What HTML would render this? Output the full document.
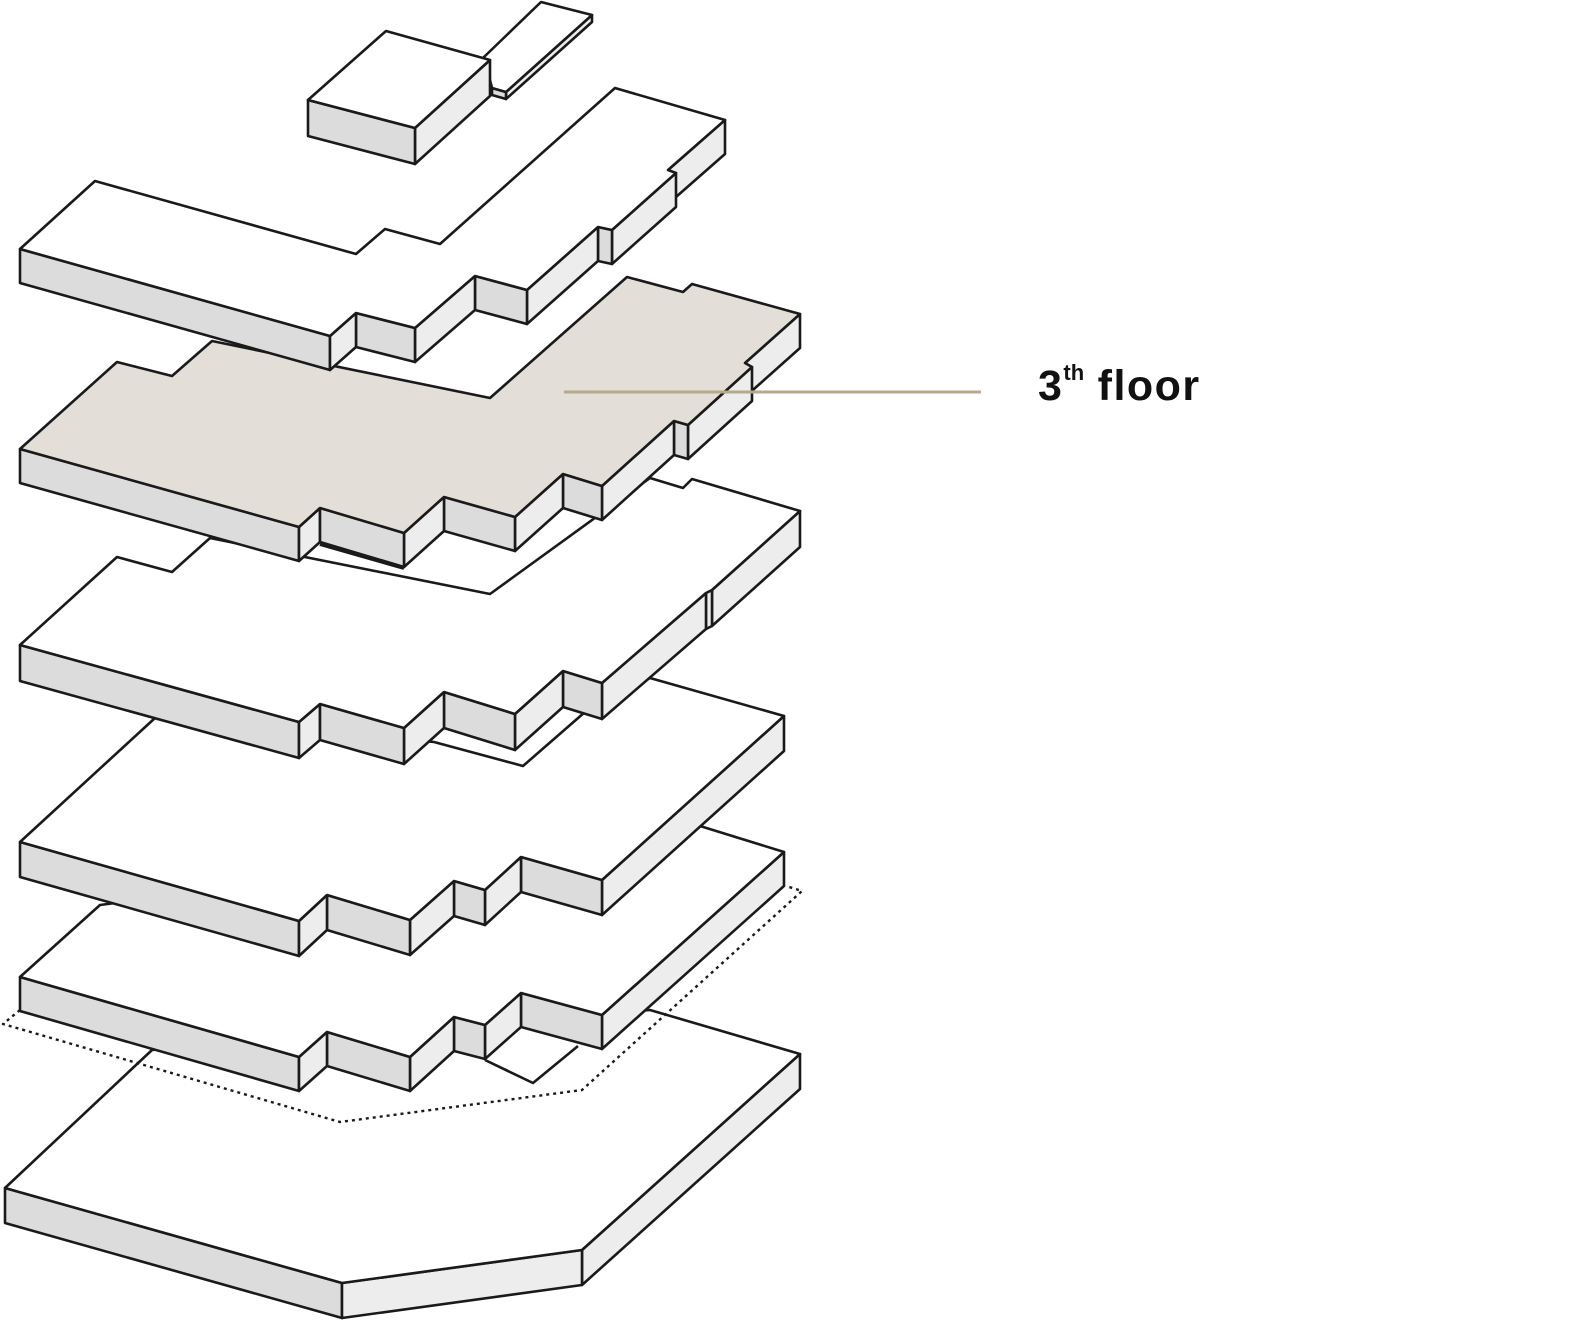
<!DOCTYPE html>
<html><head><meta charset="utf-8"><style>
html,body{margin:0;padding:0;background:#fff;}
#w{position:relative;width:1573px;height:1325px;overflow:hidden;}
svg{position:absolute;left:0;top:0;}
.lbl{position:absolute;left:1038px;top:362px;font-family:"Liberation Sans",sans-serif;font-weight:bold;font-size:43px;color:#111;white-space:nowrap;letter-spacing:1.5px;}
.lbl sup{font-size:22px;position:relative;top:-2px;vertical-align:top;letter-spacing:0;}
</style></head><body><div id="w">
<svg id="s" width="1573" height="1325" viewBox="0 0 1573 1325"></svg>
<div class="lbl">3<sup>th</sup> floor</div>
</div>
<script>
var NS="http://www.w3.org/2000/svg",S=document.getElementById('s');
function el(t,a){var e=document.createElementNS(NS,t);for(var k in a)e.setAttribute(k,a[k]);S.appendChild(e);return e;}
function pts(a){return a.map(function(p){return p[0]+','+p[1]}).join(' ');}
function slab(P,h,top){
  var faces=[];
  for(var i=0;i<P.length;i++){var a=P[i],b=P[(i+1)%P.length];var dx=b[0]-a[0],dy=b[1]-a[1];
    if(dx<0){faces.push({q:[a,b,[b[0],b[1]+h],[a[0],a[1]+h]],c:dy<0?'#dcdcdc':'#ededed',y:(a[1]+b[1])/2});}}
  faces.sort(function(m,n){return m.y-n.y});
  faces.forEach(function(f){el('polygon',{points:pts(f.q),fill:f.c,stroke:'#1a1a1a','stroke-width':2.6,'stroke-linejoin':'round'});});
  el('polygon',{points:pts(P),fill:top||'#fff',stroke:'#1a1a1a','stroke-width':2.6,'stroke-linejoin':'round'});
}
var LS={stroke:'#1a1a1a','stroke-width':2.6,fill:'none','stroke-linejoin':'round'};
slab([[5,1188],[152,1050],[650,1010],[800,1054],[582,1250],[342,1283]],35);
el('polyline',Object.assign({points:'20,1010 3,1024 340,1122 582,1090 802,891 786,886','stroke-dasharray':'3,4'},LS,{'stroke-width':2.4}));
slab([[20,977],[100,905],[700,826],[784,852],[602,1015],[521,993],[485,1025],[454,1017],[410,1057],[327,1032],[299,1057]],34);
el('polyline',Object.assign({points:'485,1060 533,1083 578,1046'},LS));
slab([[20,842],[155,718],[434,742],[523,766],[585,712],[650,678],[784,716],[602,880],[521,857],[485,890],[454,881],[410,920],[327,895],[299,921]],35);
slab([[20,645],[117,557],[172,572],[210,538],[490,594],[650,478],[683,488],[692,479],[800,511],[712,590],[706,593],[602,683],[563,671],[515,714],[444,692],[404,728],[320,704],[299,722]],36);
slab([[20,449],[117,362],[172,376],[212,341],[490,398],[627,277],[683,292],[692,284],[800,314],[745,363],[752,367],[688,425],[674,421],[602,486],[563,474],[515,517],[444,497],[404,533],[320,508],[299,527]],34,'#e3dfd8');
el('line',{x1:320,y1:544,x2:404,y2:568,stroke:'#1a1a1a','stroke-width':4});
slab([[20,249],[95,181],[356,254],[385,229],[440,244],[615,88],[725,120],[668,170],[676,173],[612,230],[598,227],[527,290],[475,276],[415,328],[356,313],[330,336]],34);
slab([[484,57],[541,2],[592,15],[506,92],[492,88]],7);
slab([[308,100],[386,31],[490,60],[415,128]],36);
el('line',{x1:564,y1:392,x2:981,y2:392,stroke:'#b5a98a','stroke-width':3});
</script>
</body></html>
